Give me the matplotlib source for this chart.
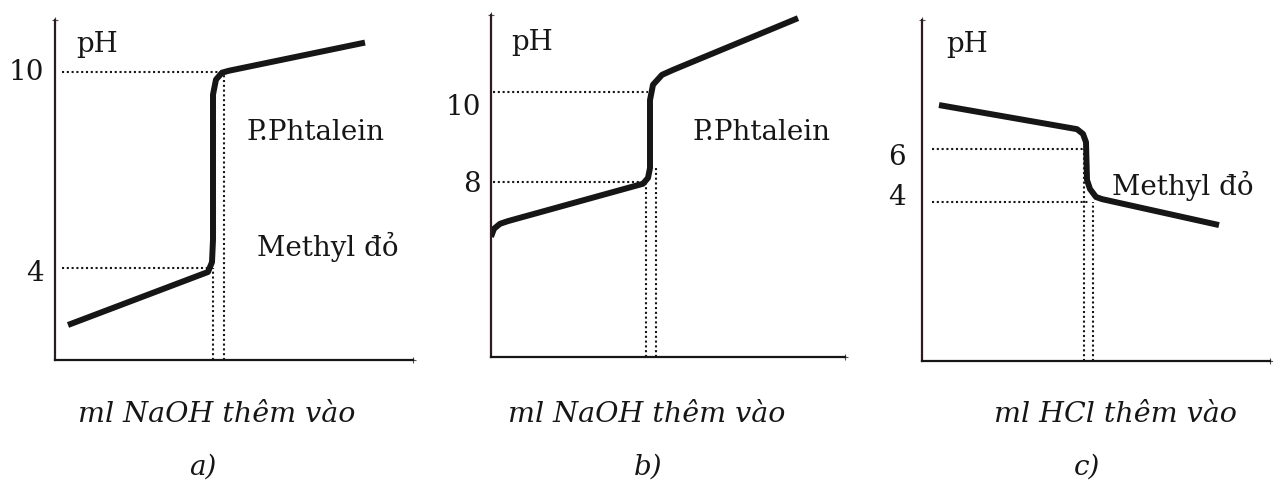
"""Titration curves a), b), c) - pH vs added volume"""

import matplotlib

matplotlib.use("Agg")

import matplotlib.pyplot as plt
import matplotlib.transforms as mtransforms

W, H = 1273, 492

# ---- panel a: NaOH added to strong acid
a_ml = [1.3, 15.3, 15.7, 15.8, 15.8, 16.1, 16.7, 17.4, 31.0]
a_ph = [2.26, 3.88, 4.18, 4.86, 9.3, 9.76, 9.97, 10.03, 10.89]
a_ticks = [4, 10]
a_tick_labels = ["4", "10"]
a_h_ph = [4, 10]           # dotted horizontal guides
a_h_end = [15.5, 17.0]
a_v_ml = [15.8, 16.9]      # dotted vertical guides
a_v_top = [4, 10]

# ---- panel b: NaOH added to weak acid
b_ml = [0.0, 0.3, 0.9, 1.7, 15.2, 15.7, 15.9, 15.9, 16.2, 17.1, 18.2, 30.7]
b_ph = [6.78, 6.96, 7.07, 7.13, 7.96, 8.09, 8.31, 9.82, 10.16, 10.38, 10.49, 11.64]
b_ticks = [8, 10]
b_tick_labels = ["8", "10"]
b_h_ph = [8, 10]
b_h_end = [15.2, 15.7]
b_v_ml = [15.5, 16.5]
b_v_top = [8.0, 8.3]

# ---- panel c: HCl added to weak base
c_ml = [1.7, 15.5, 16.1, 16.4, 16.5, 16.8, 17.4, 18.0, 29.7]
c_ph = [7.66, 6.75, 6.57, 6.26, 4.83, 4.49, 4.19, 4.11, 3.13]
c_ticks = [4, 6]
c_tick_labels = ["4", "6"]
c_h_ph = [4, 6]
c_h_end = [16.8, 16.2]
c_v_ml = [16.2, 17.1]
c_v_top = [6, 4]

x_titles = ["ml NaOH thêm vào", "ml NaOH thêm vào", "ml HCl thêm vào"]
panel_tags = ["a)", "b)", "c)"]

INK = "#161616"
SERIF = "DejaVu Serif"

fig = plt.figure(figsize=(W / 100, H / 100), dpi=100)
fig.patch.set_facecolor("white")


def make_axes(left, right, bottom, top, ylim, xlim):
    # positions given in pixels of the final image
    ax = fig.add_axes([left / W, 1 - bottom / H, (right - left) / W, (bottom - top) / H])
    ax.set_xlim(*xlim)
    ax.set_ylim(*ylim)
    ax.set_xticks([])
    ax.set_yticks([])
    ax.patch.set_alpha(0)
    for s in ("top", "right"):
        ax.spines[s].set_visible(False)
    ax.spines["left"].set_linewidth(1.6)
    ax.spines["bottom"].set_linewidth(1.6)
    ax.spines["left"].set_color("#2e1a1f")
    ax.spines["bottom"].set_color(INK)
    # small marks at the axis ends
    ax.plot([0], [1], marker="+", ms=5, mew=0.8, color="#555", transform=ax.transAxes, clip_on=False)
    ax.plot([1], [0], marker="+", ms=5, mew=0.8, color="#555", transform=ax.transAxes, clip_on=False)
    return ax


def draw_panel(ax, ml, ph, ticks, labels, label_dy, h_ph, h_end, h_start, v_ml, v_top, label_dx):
    dot = dict(color=INK, lw=1.5, ls=(0, (1, 1.3)))
    y0 = ax.get_ylim()[0]
    for p, e in zip(h_ph, h_end):
        ax.plot([h_start, e], [p, p], **dot)
    for m, t in zip(v_ml, v_top):
        ax.plot([m, m], [y0, t], **dot)
    ax.plot(ml, ph, color=INK, lw=4.3, solid_joinstyle="round", solid_capstyle="butt")

    trans = mtransforms.blended_transform_factory(ax.transAxes, ax.transData)
    for t, lab, dy in zip(ticks, labels, label_dy):
        tr = mtransforms.offset_copy(trans, fig=fig, x=-label_dx, y=-dy, units="dots")
        ax.text(0, t, lab, transform=tr, ha="right", va="center",
                fontsize=20, family=SERIF, color=INK)


ax_a = make_axes(55, 413, 360, 20, (1.19, 11.58), (0, 35.8))
draw_panel(ax_a, a_ml, a_ph, a_ticks, a_tick_labels, [5, 1], a_h_ph, a_h_end, 0.7, a_v_ml, a_v_top, 11)

ax_b = make_axes(491, 845, 357, 15, (4.11, 11.71), (0, 35.4))
draw_panel(ax_b, b_ml, b_ph, b_ticks, b_tick_labels, [3, 16], b_h_ph, b_h_end, 0.2, b_v_ml, b_v_top, 10)

ax_c = make_axes(922, 1270, 361, 20, (-2.0, 10.87), (0, 34.8))
draw_panel(ax_c, c_ml, c_ph, c_ticks, c_tick_labels, [-5, 8], c_h_ph, c_h_end, 1.0,
           c_v_ml, c_v_top, 16)


def ftext(x, y, s, **kw):
    kw.setdefault("family", SERIF)
    kw.setdefault("color", INK)
    fig.text(x / W, 1 - y / H, s, **kw)


# axis names and indicator labels
for x, y in [(76, 44), (511, 43), (946, 44)]:
    ftext(x, y, "pH", fontsize=20, va="center")
ftext(246, 133, "P.Phtalein", fontsize=20, va="center")
ftext(257, 247, "Methyl đỏ", fontsize=20, va="center")
ftext(692, 133, "P.Phtalein", fontsize=20, va="center")
ftext(1112, 186, "Methyl đỏ", fontsize=20, va="center")

# captions under the panels
for cx, title, tag, tx in zip([217, 647, 1115], x_titles, panel_tags, [203, 648, 1087]):
    ftext(cx, 415, title, fontsize=20.5, style="italic", ha="center", va="center")
    ftext(tx, 467, tag, fontsize=20, style="italic", ha="center", va="center")

fig.savefig("out.png", dpi=100, facecolor="white")
